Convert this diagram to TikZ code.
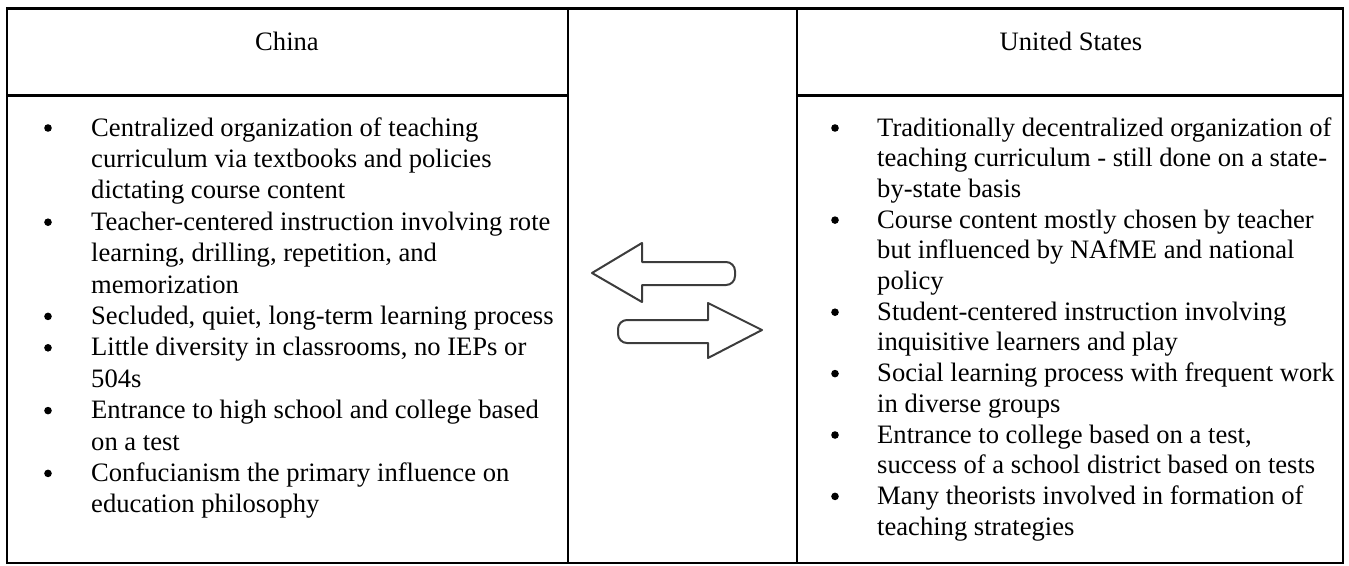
\documentclass[tikz,border=0pt]{standalone}
\usepackage{fontspec}
\setmainfont{Liberation Serif}
\definecolor{arrgray}{HTML}{3C3C3C}
\tikzset{
  txt/.style={anchor=base west, inner sep=0pt, font=\fontsize{26.6}{31}\selectfont},
  hdr/.style={anchor=base, inner sep=0pt, font=\fontsize{26.6}{31}\selectfont},
  bul/.style={circle, fill=black, inner sep=0pt, minimum size=7.6pt},
  gridline/.style={line width=2.7pt},
  arr/.style={draw=arrgray, line width=2pt, line join=round}
}
\begin{document}
\begin{tikzpicture}[x={(1pt,0)}, y={(0,-1pt)}]
\useasboundingbox (0,0) rectangle (1349,565);
% table
\draw[gridline] (7,8.5) rectangle (1343,563);
\draw[gridline] (568,8.5) -- (568,563);
\draw[gridline] (797,8.5) -- (797,563);
\draw[gridline] (7,95.5) -- (568,95.5);
\draw[gridline] (797,95.5) -- (1343,95.5);
% headers
\node[hdr] (china) at (287,50) {China};
\node[hdr] (us) at (1071,50) {United States};
% left column
\node[txt] (l1) at (91,136) {Centralized organization of teaching};
\node[txt] (l2) at (91,167.4) {curriculum via textbooks and policies};
\node[txt] (l3) at (91,198.8) {dictating course content};
\node[txt] (l4) at (91,230.2) {Teacher-centered instruction involving rote};
\node[txt] (l5) at (91,261.6) {learning, drilling, repetition, and};
\node[txt] (l6) at (91,293) {memorization};
\node[txt] (l7) at (91,324.4) {Secluded, quiet, long-term learning process};
\node[txt] (l8) at (91,355.8) {Little diversity in classrooms, no IEPs or};
\node[txt] (l9) at (91,387.2) {504s};
\node[txt] (l10) at (91,418.6) {Entrance to high school and college based};
\node[txt] (l11) at (91,450) {on a test};
\node[txt] (l12) at (91,481.4) {Confucianism the primary influence on};
\node[txt] (l13) at (91,512.8) {education philosophy};
\node[bul] (lb1) at (48,128) {};
\node[bul] (lb2) at (48,222.2) {};
\node[bul] (lb3) at (48,316.4) {};
\node[bul] (lb4) at (48,347.8) {};
\node[bul] (lb5) at (48,410.6) {};
\node[bul] (lb6) at (48,473.4) {};
% right column
\node[txt] (r1) at (877,136) {Traditionally decentralized organization of};
\node[txt] (r2) at (877,166.7) {teaching curriculum - still done on a state-};
\node[txt] (r3) at (877,197.4) {by-state basis};
\node[txt] (r4) at (877,228.1) {Course content mostly chosen by teacher};
\node[txt] (r5) at (877,258.8) {but influenced by NAfME and national};
\node[txt] (r6) at (877,289.5) {policy};
\node[txt] (r7) at (877,320.2) {Student-centered instruction involving};
\node[txt] (r8) at (877,350.9) {inquisitive learners and play};
\node[txt] (r9) at (877,381.6) {Social learning process with frequent work};
\node[txt] (r10) at (877,412.3) {in diverse groups};
\node[txt] (r11) at (877,443) {Entrance to college based on a test,};
\node[txt] (r12) at (877,473.7) {success of a school district based on tests};
\node[txt] (r13) at (877,504.4) {Many theorists involved in formation of};
\node[txt] (r14) at (877,535.1) {teaching strategies};
\node[bul] (rb1) at (835,128) {};
\node[bul] (rb2) at (835,220.1) {};
\node[bul] (rb3) at (835,312.2) {};
\node[bul] (rb4) at (835,373.6) {};
\node[bul] (rb5) at (835,435) {};
\node[bul] (rb6) at (835,496.4) {};
% arrows
\draw[arr] (592,273) -- (642,243) -- (642,262)
  [rounded corners=9pt] -- (735,262) -- (735,285) [sharp corners] -- (642,285)
  -- (642,302) -- cycle;
\draw[arr] (762,330) -- (708,303) -- (708,320)
  [rounded corners=9pt] -- (618,320) -- (618,343) [sharp corners] -- (708,343)
  -- (708,358) -- cycle;
\end{tikzpicture}
\end{document}
